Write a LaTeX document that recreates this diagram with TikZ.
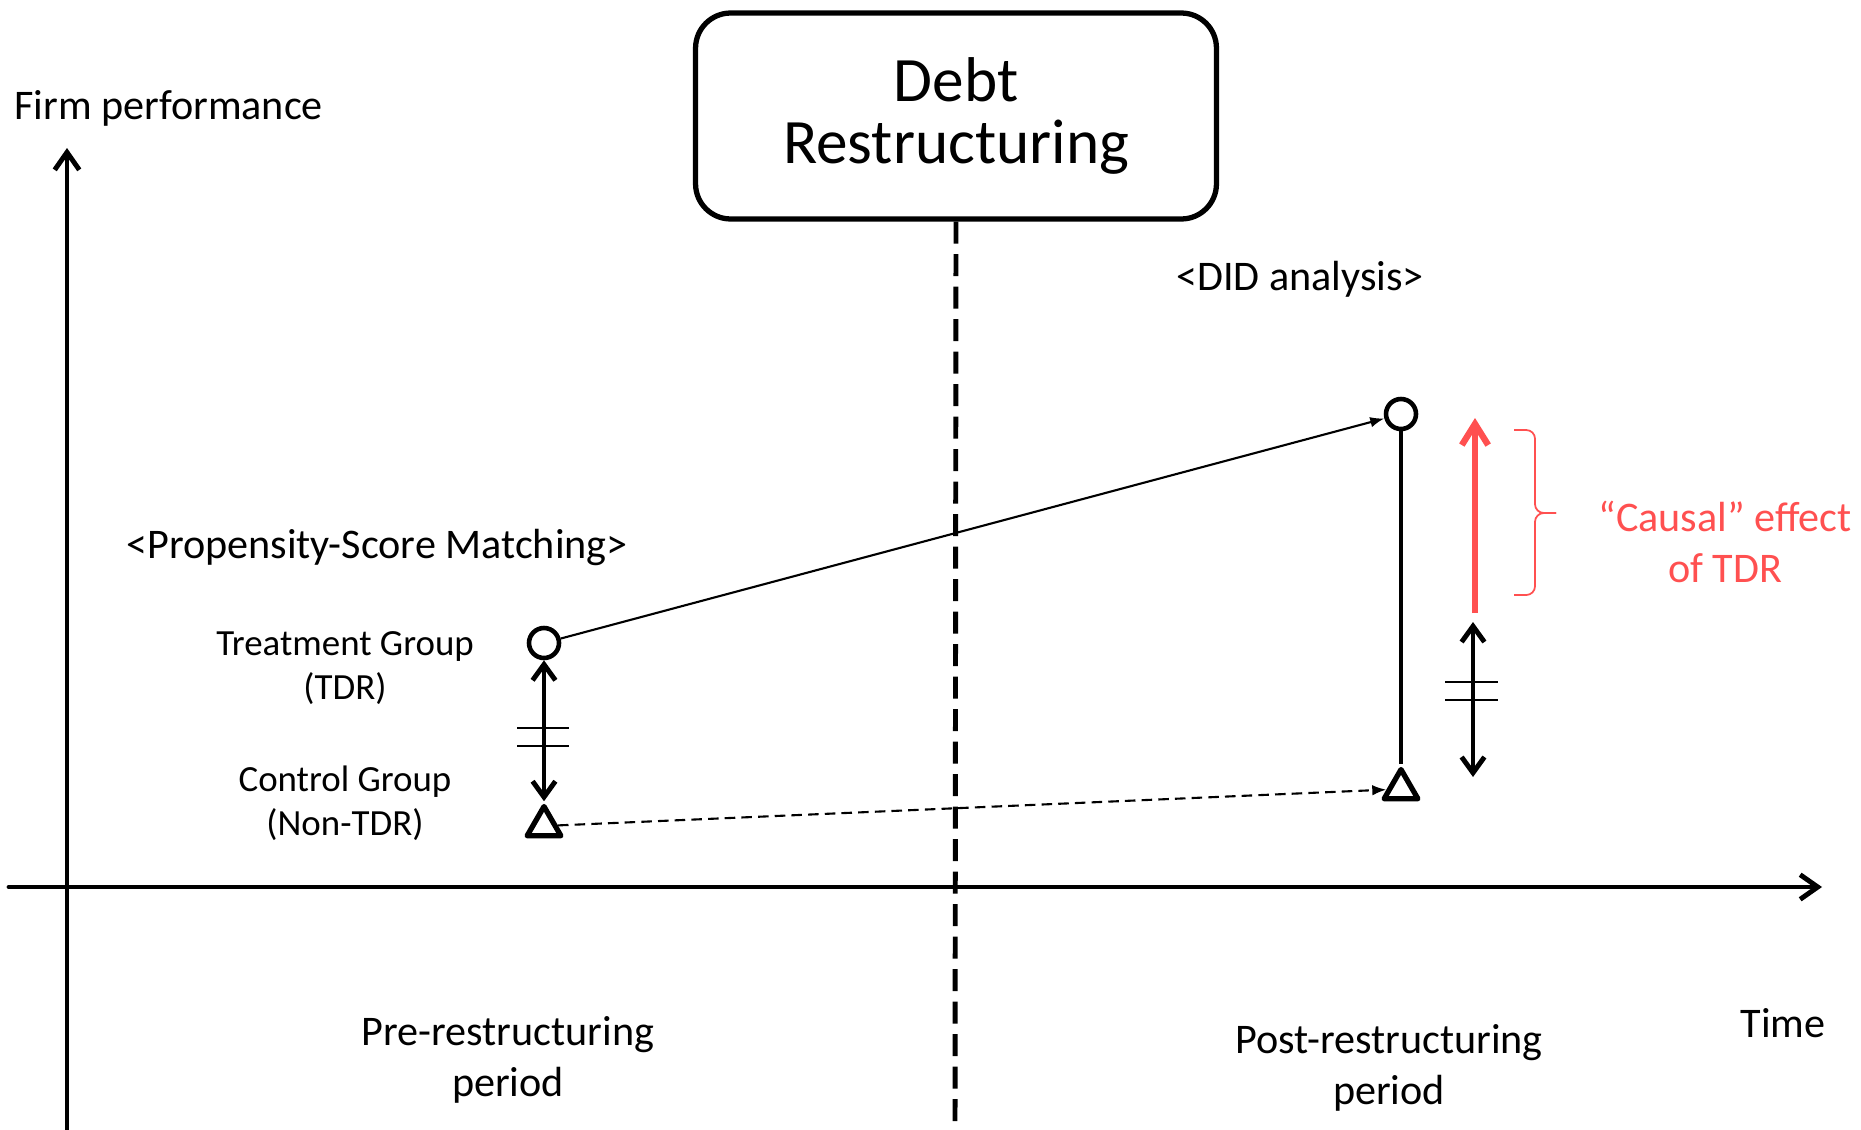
\documentclass[tikz,border=0pt]{standalone}
\usepackage{fontspec}
\setmainfont{Carlito}
\usepackage{tikz}
\usetikzlibrary{arrows.meta,shapes.geometric}
\definecolor{causalred}{RGB}{255,80,80}

\begin{document}
\begin{tikzpicture}[x=0.02cm, y=-0.02cm,
  lbl/.style={font=\fontsize{24}{29}\selectfont, align=center, inner sep=0pt},
  grp/.style={font=\fontsize{21}{25}\selectfont, align=center, inner sep=0pt},
  event/.style={rectangle, draw, line width=3pt, rounded corners=20pt, minimum width=10.42cm, minimum height=4.12cm, align=center, font=\fontsize{36}{35}\selectfont},
  treat/.style={circle, draw, line width=2.6pt, minimum size=0.6cm, inner sep=0pt},
  ctrl/.style={regular polygon, regular polygon sides=3, draw, line width=3pt, line join=round, minimum size=0.78cm, inner sep=0pt},
  axis/.style={line width=2.8pt, -{Straight Barb[length=10pt,width=14pt]}, line cap=round},
  cut/.style={line width=2.8pt, dash pattern=on 12.5pt off 6pt},
  trend/.style={line width=1.2pt, -{Latex[length=8pt,width=6pt]}},
  gap/.style={line width=2.8pt, {Straight Barb[length=9pt,width=13pt]}-{Straight Barb[length=9pt,width=13pt]}, line cap=round},
  effect/.style={line width=3.6pt, causalred, -{Straight Barb[length=12pt,width=15pt]}},
  tick/.style={line width=1.2pt}]

\useasboundingbox (0,0) rectangle (1861,1129);

% axes
\coordinate (ybot) at (67,1129);
\coordinate (ytop) at (67,148);
\coordinate (xleft) at (9,887);
\coordinate (xright) at (1822,887);
\draw[axis] (ybot) -- (ytop);
\draw[axis] (xleft) -- (xright);
\node[lbl, anchor=west] (yname) at (14,108) {Firm performance};
\node[lbl] (xname) at (1783,1023) {Time};

% event and period split
\node[event] (debt) at (956,116) {Debt\\Restructuring};
\coordinate (cutend) at (955,1129);
\draw[cut] (debt.south) -- (cutend);
\node[lbl] (pre) at (508,1060) {Pre-restructuring\\period};
\node[lbl] (post) at (1389,1068) {Post-restructuring\\period};

% groups
\node[lbl] (psm) at (377,547) {<Propensity-Score Matching>};
\node[lbl] (did) at (1300,279) {<DID analysis>};
\node[grp] (tlabel) at (345,668) {Treatment Group\\(TDR)};
\node[grp] (clabel) at (345,803) {Control Group\\(Non-TDR)};

\node[treat] (tdr0) at (544,643) {};
\node[ctrl] (non0) at (544,826) {};
\node[treat] (tdr1) at (1401,414) {};
\node[ctrl] (non1) at (1401,789) {};

\draw[trend] (tdr0) -- (tdr1);
\draw[trend, dash pattern=on 6pt off 3.5pt] (non0) -- (non1);
\draw[line width=2.8pt] (tdr1) -- (non1.north);

% matched gap before
\draw[gap] (tdr0) -- (non0.north);
\foreach \y in {728,746}
  \draw[tick] (517,\y) -- (569,\y);

% gap after and effect
\coordinate (gtop) at (1473,622);
\coordinate (gbot) at (1473,777);
\draw[gap] (gtop) -- (gbot);
\foreach \y in {682,700}
  \draw[tick] (1445,\y) -- (1498,\y);
\coordinate (cbase) at (1475,613);
\coordinate (ctip) at (1475,418);
\draw[effect] (cbase) -- (ctip);
\draw[causalred, line width=1pt, rounded corners=5pt] (1514,430) -| (1535,513) -- (1556,513);
\draw[causalred, line width=1pt, rounded corners=5pt] (1556,513) -- (1535,513) |- (1514,595);
\node[lbl, text=causalred] (causal) at (1725,542) {“Causal” effect\\of TDR};
\end{tikzpicture}
\end{document}
